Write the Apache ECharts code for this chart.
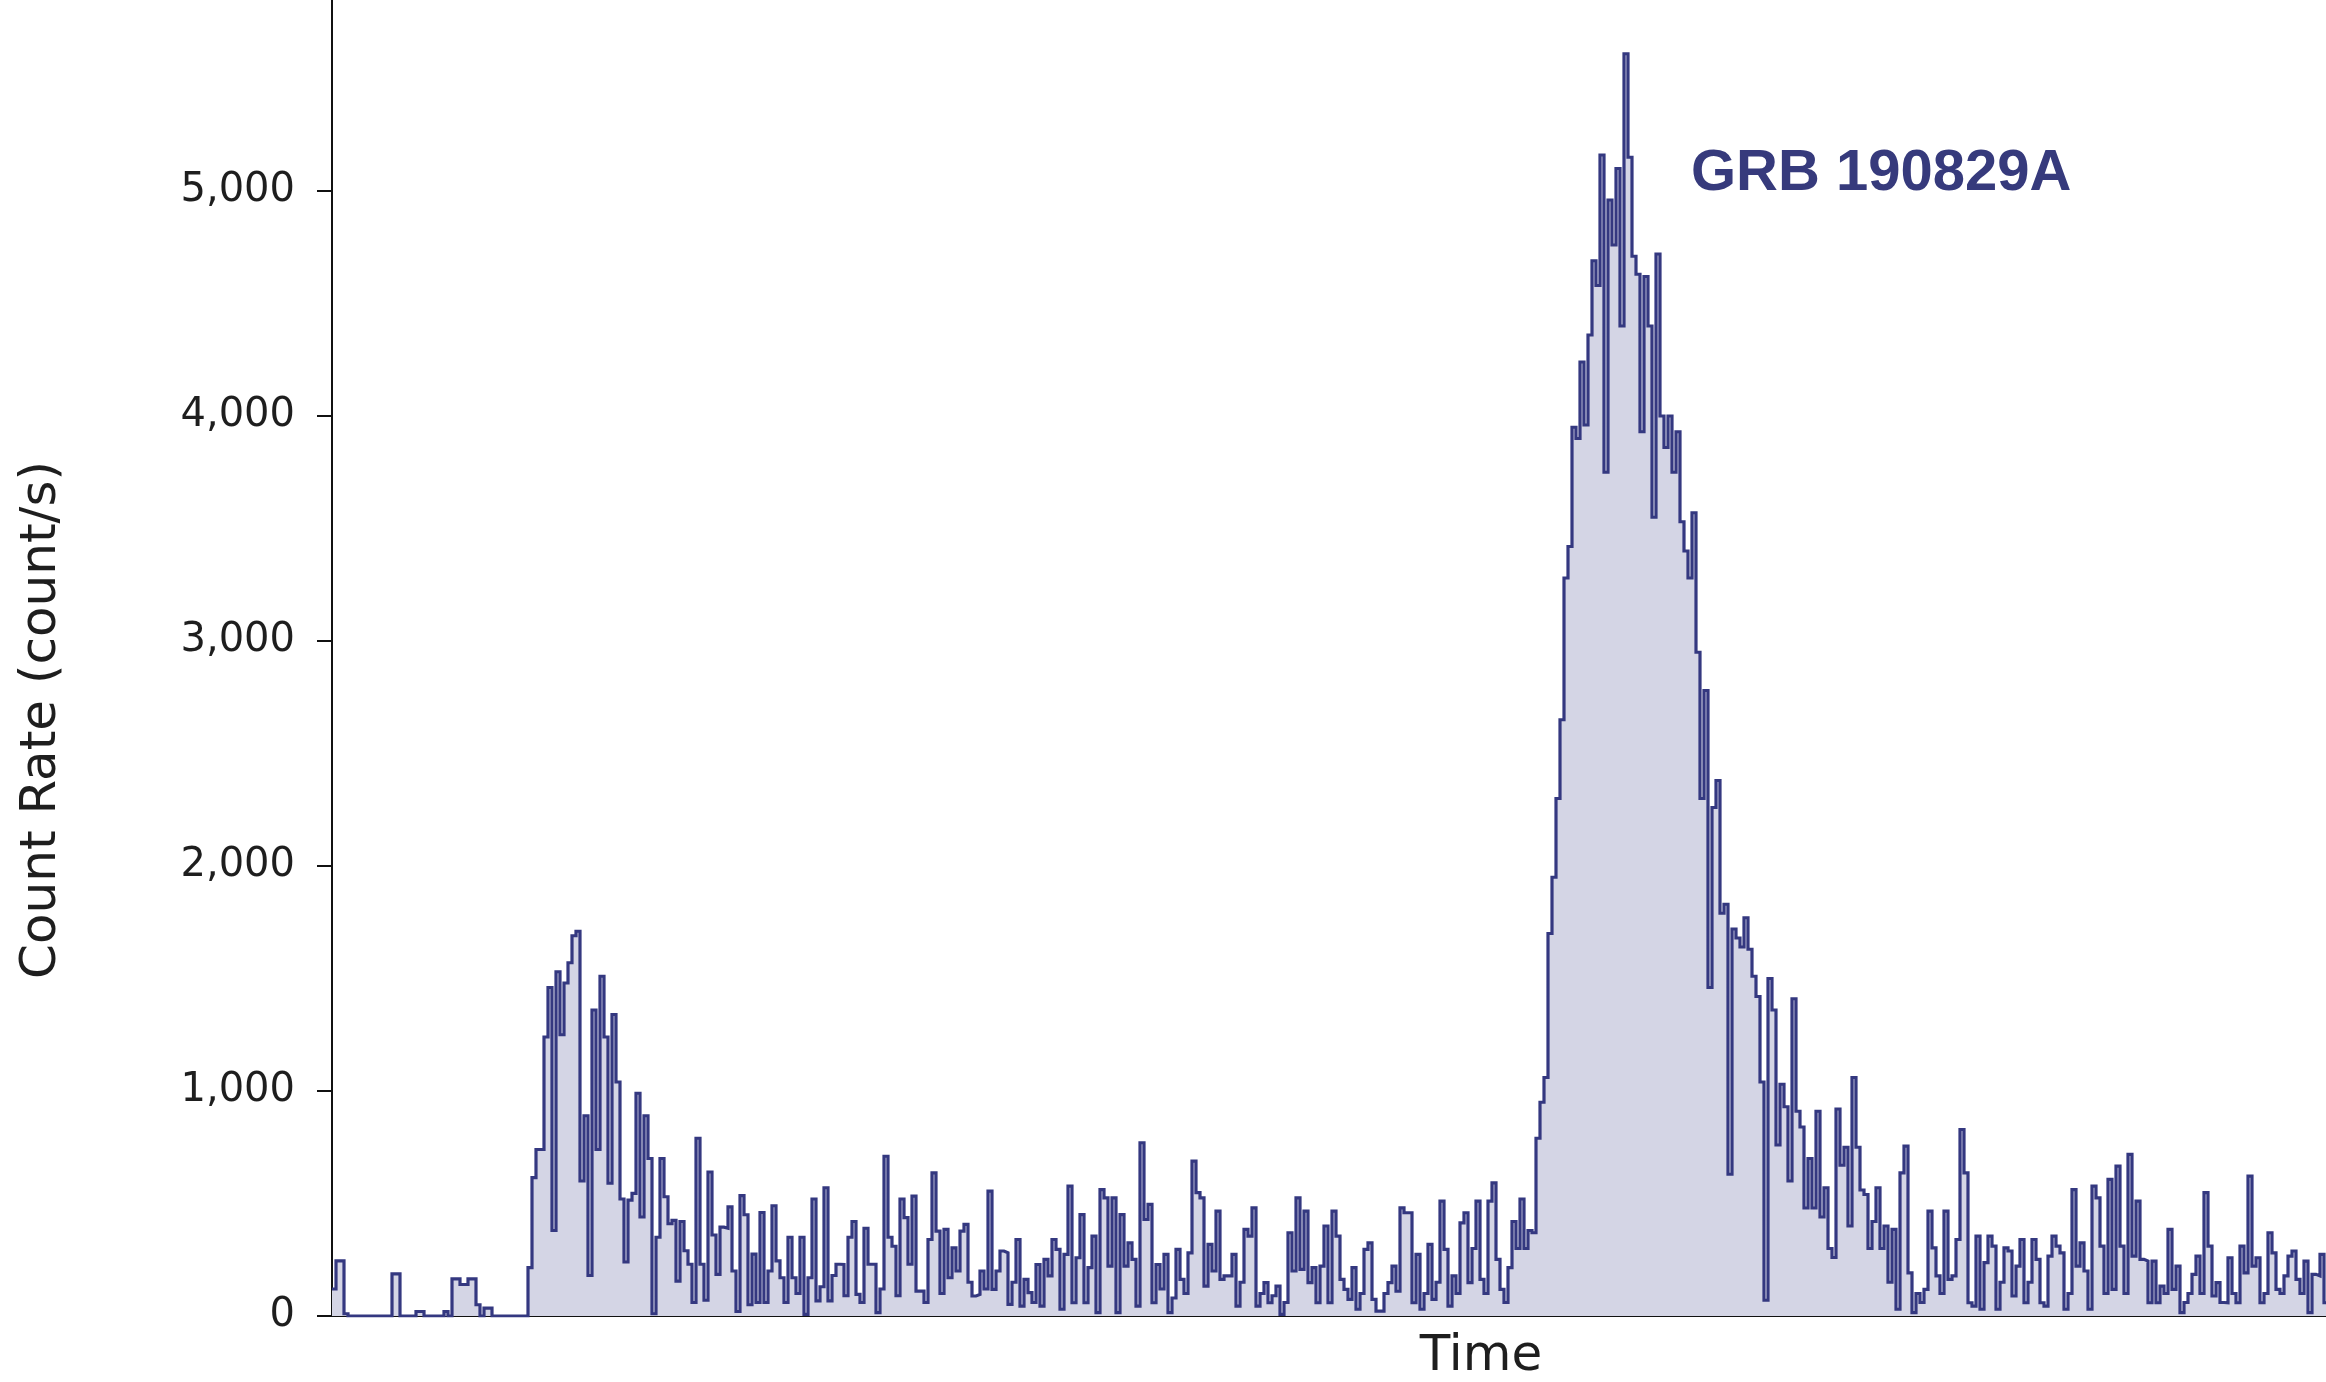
<!DOCTYPE html>
<html>
<head>
<meta charset="utf-8">
<style>
html,body{margin:0;padding:0;background:#fff;}
#chart{width:2326px;height:1382px;}
</style>
<script src="https://cdn.jsdelivr.net/npm/echarts@6/dist/echarts.min.js"></script>
</head>
<body>
<div id="chart"></div>
<script>
// Count rate per time bin (count/s)
const countRate = [
  120, 245, 245, 10, 0, 0, 0, 0, 0, 0,
  0, 0, 0, 0, 0, 187, 187, 0, 0, 0,
  0, 20, 20, 0, 0, 0, 0, 0, 20, 0,
  165, 165, 140, 140, 165, 165, 50, 0, 35, 35,
  0, 0, 0, 0, 0, 0, 0, 0, 0, 215,
  615, 740, 740, 1240, 1460, 380, 1530, 1250, 1480, 1570,
  1690, 1710, 600, 890, 180, 1360, 740, 1510, 1240, 590,
  1340, 1040, 520, 240, 515, 545, 990, 440, 890, 700,
  10, 350, 700, 530, 410, 425, 155, 420, 290, 230,
  60, 790, 230, 70, 640, 360, 185, 395, 390, 485,
  200, 20, 535, 450, 50, 275, 60, 460, 60, 200,
  490, 245, 170, 60, 350, 170, 100, 350, 7, 170,
  520, 67, 130, 570, 67, 180, 230, 229, 90, 350,
  420, 96, 60, 390, 230, 230, 15, 120, 710, 350,
  310, 90, 520, 437, 230, 533, 111, 111, 60, 340,
  636, 377, 100, 385, 170, 303, 200, 377, 407, 150,
  89, 96, 200, 120, 555, 118, 200, 289, 281, 52,
  150, 340, 44, 163, 104, 60, 229, 44, 252, 178,
  340, 296, 30, 274, 577, 59, 259, 451, 59, 215,
  355, 15, 562, 525, 222, 525, 15, 451, 222, 325,
  252, 44, 770, 429, 496, 59, 229, 120, 274, 15,
  80, 296, 163, 100, 281, 688, 548, 525, 133, 318,
  200, 466, 163, 178, 178, 274, 44, 150, 385, 355,
  481, 44, 100, 148, 59, 90, 133, 7, 60, 370,
  200, 525, 207, 466, 148, 215, 59, 222, 400, 59,
  466, 355, 163, 118, 74, 215, 30, 100, 296, 325,
  74, 22, 22, 100, 148, 222, 110, 481, 459, 459,
  59, 274, 30, 100, 318, 74, 150, 511, 296, 44,
  178, 100, 414, 459, 148, 300, 511, 163, 100, 511,
  592, 252, 118, 60, 215, 420, 300, 520, 300, 380,
  370, 790, 950, 1060, 1700, 1950, 2300, 2650, 3280, 3420,
  3950, 3900, 4240, 3960, 4360, 4690, 4580, 5160, 3750, 4960,
  4760, 5100, 4400, 5610, 5150, 4710, 4630, 3930, 4620, 4400,
  3550, 4720, 4000, 3860, 4000, 3750, 3930, 3530, 3400, 3280,
  3570, 2950, 2300, 2780, 1460, 2260, 2380, 1790, 1830, 630,
  1720, 1680, 1640, 1770, 1630, 1510, 1420, 1040, 70, 1500,
  1360, 760, 1030, 930, 600, 1410, 910, 840, 480, 700,
  480, 910, 440, 570, 300, 260, 920, 670, 750, 400,
  1060, 750, 560, 540, 300, 420, 570, 300, 400, 150,
  385, 30, 636, 755, 192, 15, 100, 60, 118, 466,
  303, 178, 100, 466, 163, 178, 340, 829, 636, 59,
  44, 355, 30, 237, 355, 311, 30, 150, 303, 289,
  89, 222, 340, 59, 150, 340, 252, 59, 44, 266,
  355, 311, 281, 30, 100, 562, 222, 325, 200, 30,
  577, 525, 311, 100, 607, 118, 666, 311, 100, 718,
  266, 511, 252, 244, 59, 244, 59, 133, 100, 385,
  118, 222, 15, 60, 100, 185, 266, 100, 548, 311,
  89, 148, 60, 59, 259, 100, 59, 311, 192, 622,
  222, 259, 59, 100, 370, 281, 118, 100, 178, 266,
  289, 163, 100, 244, 15, 185, 178, 274, 59
];
const yTickValues = [0, 1000, 2000, 3000, 4000, 5000];
const annotation = 'GRB 190829A';
const xTitle = 'Time';
const yTitle = 'Count Rate (count/s)';

const points = countRate.map((v, i) => [i, v]);
points.push([countRate.length, countRate[countRate.length - 1]]);

const chart = echarts.init(document.getElementById('chart'), null, {renderer: 'canvas'});
chart.setOption({
  animation: false,
  backgroundColor: '#ffffff',
  grid: {left: 332, right: 0, top: 0, bottom: 66, containLabel: false},
  xAxis: {
    type: 'value', min: 0, max: 498.5,
    axisLine: {show: true, onZero: false, lineStyle: {color: '#111', width: 2}},
    axisTick: {show: false}, axisLabel: {show: false}, splitLine: {show: false}
  },
  yAxis: {
    type: 'value', min: 0, max: 5849, interval: 1000,
    axisLine: {show: true, lineStyle: {color: '#111', width: 2}},
    axisTick: {show: true, length: 15, inside: false, lineStyle: {color: '#111', width: 2}, customValues: yTickValues},
    axisLabel: {
      show: true, margin: 37, fontSize: 40, fontFamily: 'DejaVu Sans', color: '#1e1e1e',
      customValues: yTickValues,
      formatter: v => Number(v).toLocaleString('en-US')
    },
    splitLine: {show: false}
  },
  series: [{
    type: 'line',
    data: points,
    step: 'end',
    symbol: 'none',
    clip: true,
    lineStyle: {color: '#343880', width: 3.2, join: 'miter'},
    areaStyle: {color: '#d4d5e5', opacity: 1},
    z: 2
  }],
  graphic: [
    {type: 'text', left: 1691, top: 145, z: 10,
     style: {text: annotation, font: 'bold 58px "Liberation Sans", Arial, sans-serif', fill: '#363a7c'}},
    {type: 'text', x: 1481, y: 1357, z: 10,
     style: {text: xTitle, font: '50px "DejaVu Sans"', fill: '#1e1e1e', align: 'center', verticalAlign: 'middle'}},
    {type: 'text', x: 42, y: 720, rotation: Math.PI / 2, z: 10,
     style: {text: yTitle, font: '50px "DejaVu Sans"', fill: '#1e1e1e', align: 'center', verticalAlign: 'middle'}}
  ]
});
</script>
</body>
</html>
